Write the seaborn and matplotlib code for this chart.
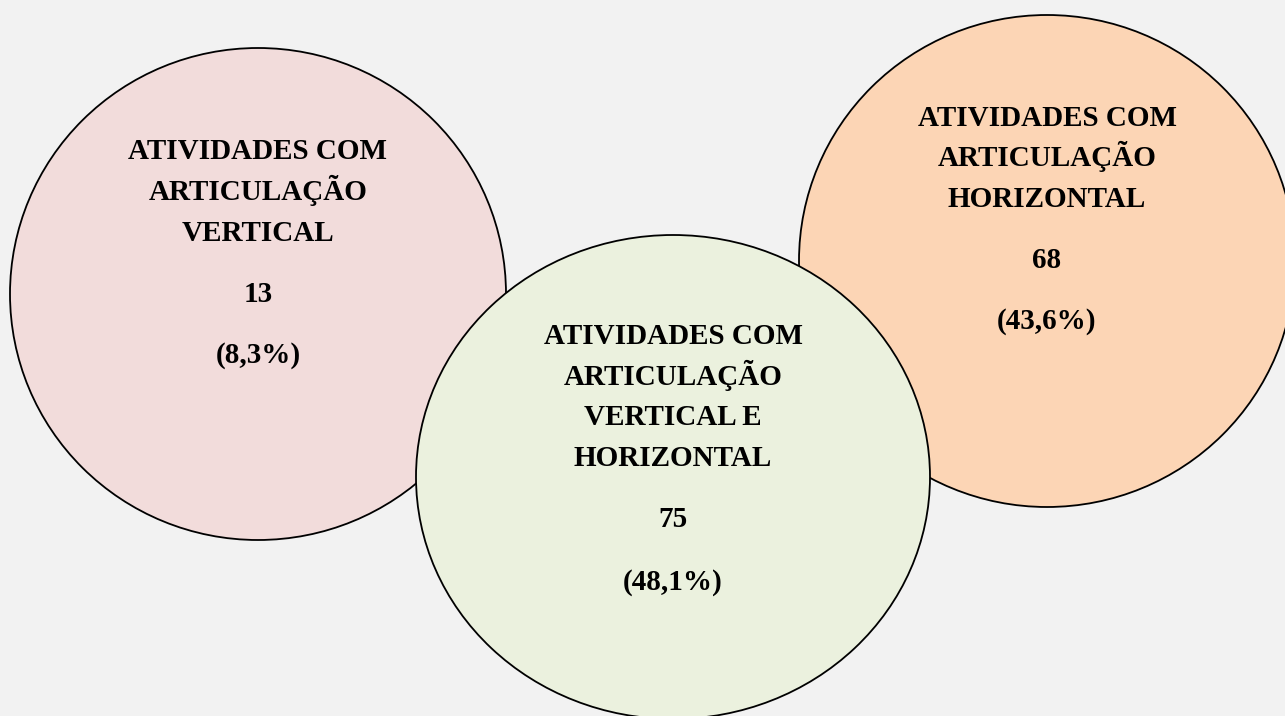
import matplotlib
matplotlib.use("Agg")
import matplotlib.pyplot as plt
import seaborn as sns
from matplotlib.patches import Ellipse

# dados
rotulos = [
    "ATIVIDADES COM\nARTICULAÇÃO\nVERTICAL",
    "ATIVIDADES COM\nARTICULAÇÃO\nHORIZONTAL",
    "ATIVIDADES COM\nARTICULAÇÃO\nVERTICAL E\nHORIZONTAL",
]
contagens = [13, 68, 75]
percentuais = ["8,3%", "43,6%", "48,1%"]
cores = ["#f2dcdb", "#fcd5b5", "#ebf1de"]

# posição (px) de cada círculo: centro x, centro y, raio x, raio y
centros_x = [258, 1047, 673]
centros_y = [294, 261, 477]
raios_x = [248, 248, 257]
raios_y = [246, 246, 242]
# linhas de base do texto: primeira linha, passo entre linhas, número, percentual
base_y = [159, 126, 344]
passo = [41, 40.5, 40.7]
num_y = [302, 268, 527]
pct_y = [363, 329, 590]

sns.set_style("white")
plt.rcParams["font.family"] = ["Liberation Serif", "DejaVu Serif"]

fig = plt.figure(figsize=(12.85, 7.16), dpi=100, facecolor="#f2f2f2")
ax = fig.add_axes([0, 0, 1, 1])
ax.set_facecolor("#f2f2f2")
ax.set_xlim(0, 1285)
ax.set_ylim(716, 0)
ax.axis("off")

estilo = dict(ha="center", va="baseline", fontsize=21, fontweight="bold",
              color="black", zorder=10)

for i in range(3):
    e = Ellipse((centros_x[i], centros_y[i]), 2 * raios_x[i], 2 * raios_y[i],
                facecolor=cores[i], edgecolor="black", linewidth=1.3, zorder=i + 1)
    ax.add_patch(e)
    for k, ln in enumerate(rotulos[i].split("\n")):
        ax.text(centros_x[i], base_y[i] + k * passo[i], ln, **estilo)
    ax.text(centros_x[i], num_y[i], str(contagens[i]), **estilo)
    ax.text(centros_x[i], pct_y[i], "(" + percentuais[i] + ")", **estilo)

fig.savefig("out.png", dpi=100, facecolor=fig.get_facecolor())
